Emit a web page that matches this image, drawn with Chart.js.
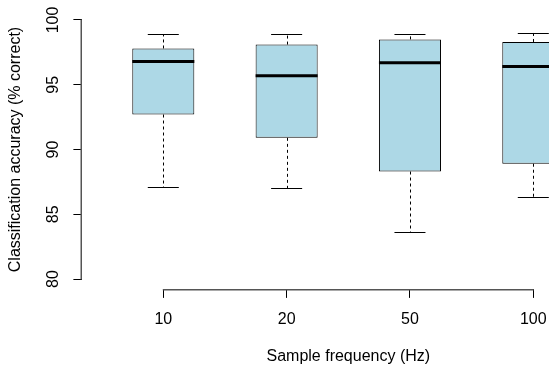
<!DOCTYPE html>
<html>
<head>
<meta charset="utf-8">
<script src="https://cdn.jsdelivr.net/npm/chart.js@4.4.0/dist/chart.umd.min.js"></script>
<style>
  html, body { margin: 0; padding: 0; background: #fff; overflow: hidden; width: 549px; height: 369px; }
</style>
</head>
<body>
<canvas id="chart" width="640" height="369" style="width:640px;height:369px"></canvas>
<script>
// Datos (frecuencia de muestreo vs. precisión)
const categories = ['10', '20', '50', '100'];
const whiskerLow = [87.1, 87.0, 83.6, 86.3];
const q1 = [92.7, 90.9, 88.3, 88.9];
const medians = [96.8, 95.7, 96.7, 96.4];
const q3 = [97.8, 98.1, 98.5, 98.3];
const whiskerHigh = [98.9, 98.9, 98.9, 99.0];
const yTicks = [80, 85, 90, 95, 100];

const FONT = { family: '"Liberation Sans", Arial, sans-serif', size: 16 };

// Bigotes, topes y medianas encima de las cajas
const boxExtras = {
  id: 'boxExtras',
  afterDatasetsDraw(chart) {
    const { ctx, scales: { y } } = chart;
    const meta = chart.getDatasetMeta(0);
    ctx.save();
    ctx.strokeStyle = '#000';
    meta.data.forEach((bar, i) => {
      const cx = Math.round(bar.x) + 0.5;
      const half = bar.width / 2;
      const capHalf = half / 2;
      const yHi = y.getPixelForValue(whiskerHigh[i]);
      const yLo = y.getPixelForValue(whiskerLow[i]);
      // bigotes punteados
      ctx.lineWidth = 1;
      ctx.setLineDash([3, 3]);
      ctx.beginPath();
      ctx.moveTo(cx, y.getPixelForValue(q3[i]));
      ctx.lineTo(cx, yHi);
      ctx.moveTo(cx, y.getPixelForValue(q1[i]));
      ctx.lineTo(cx, yLo);
      ctx.stroke();
      ctx.setLineDash([]);
      // topes
      ctx.beginPath();
      ctx.moveTo(bar.x - capHalf, Math.round(yHi) + 0.5);
      ctx.lineTo(bar.x + capHalf, Math.round(yHi) + 0.5);
      ctx.moveTo(bar.x - capHalf, Math.round(yLo) + 0.5);
      ctx.lineTo(bar.x + capHalf, Math.round(yLo) + 0.5);
      ctx.stroke();
      // mediana
      ctx.lineWidth = 3;
      const ym = y.getPixelForValue(medians[i]);
      ctx.beginPath();
      ctx.moveTo(bar.x - half, ym);
      ctx.lineTo(bar.x + half, ym);
      ctx.stroke();
    });
    ctx.restore();
  }
};

// Líneas de ejes (solo entre el primer y último tick) y etiquetas rotadas del eje Y
const axisLines = {
  id: 'axisLines',
  afterDraw(chart) {
    const { ctx, chartArea, scales: { x, y } } = chart;
    const left = Math.round(chartArea.left);
    const bottom = Math.round(chartArea.bottom);
    const yTop = y.getPixelForValue(yTicks[yTicks.length - 1]);
    const yBot = y.getPixelForValue(yTicks[0]);
    const xL = x.getPixelForValue(1);
    const xR = x.getPixelForValue(categories.length);
    ctx.save();
    ctx.fillStyle = '#555';
    ctx.fillRect(xL - 0.5, bottom, xR - xL + 1, 1.5);
    ctx.fillRect(left - 1.5, yTop - 0.5, 1.5, yBot - yTop + 1);

    ctx.fillStyle = '#000';
    ctx.font = `${FONT.size}px ${FONT.family}`;
    ctx.textAlign = 'center';
    ctx.textBaseline = 'middle';
    yTicks.forEach((v) => {
      ctx.save();
      ctx.translate(chartArea.left - 28, y.getPixelForValue(v));
      ctx.rotate(-Math.PI / 2);
      ctx.fillText(String(v), 0, 0);
      ctx.restore();
    });
    ctx.restore();
  }
};

new Chart(document.getElementById('chart'), {
  type: 'bar',
  data: {
    datasets: [{
      data: categories.map((c, i) => ({ x: i + 1, y: [q1[i], q3[i]] })),
      backgroundColor: '#ADD8E6',
      borderColor: '#000',
      borderWidth: 1,
      borderSkipped: false,
      barPercentage: 0.503,
      categoryPercentage: 1
    }]
  },
  options: {
    responsive: false,
    animation: false,
    devicePixelRatio: 1,
    layout: { padding: { top: 9.6, right: 25.3, left: 0, bottom: 0 } },
    plugins: { legend: { display: false }, tooltip: { enabled: false } },
    scales: {
      x: {
        type: 'linear',
        offset: false,
        min: 0.34,
        max: 4.66,
        afterBuildTicks: (s) => { s.ticks = categories.map((c, i) => ({ value: i + 1 })); },
        afterFit: (s) => { s.height = 79.6; },
        ticks: {
          callback: (v, idx) => categories[idx],
          font: FONT, color: '#000', padding: 12.5,
          maxRotation: 0, autoSkip: false
        },
        grid: { drawOnChartArea: false, drawTicks: true, tickLength: 8.5, color: '#000', offset: false },
        border: { display: false },
        title: {
          display: true, text: 'Sample frequency (Hz)',
          font: FONT, color: '#000', padding: { top: 0, bottom: 2.4 }
        }
      },
      y: {
        min: 79.2,
        max: 100.8,
        afterBuildTicks: (s) => { s.ticks = yTicks.map((v) => ({ value: v })); },
        afterFit: (s) => { s.width = 81.9; },
        ticks: { display: false },
        grid: { drawOnChartArea: false, drawTicks: true, tickLength: 8.5, color: '#000' },
        border: { display: false },
        title: {
          display: true, text: 'Classification accuracy (% correct)',
          font: FONT, color: '#000', padding: { top: 6, bottom: 0 }
        }
      }
    }
  },
  plugins: [boxExtras, axisLines]
});
</script>
</body>
</html>
